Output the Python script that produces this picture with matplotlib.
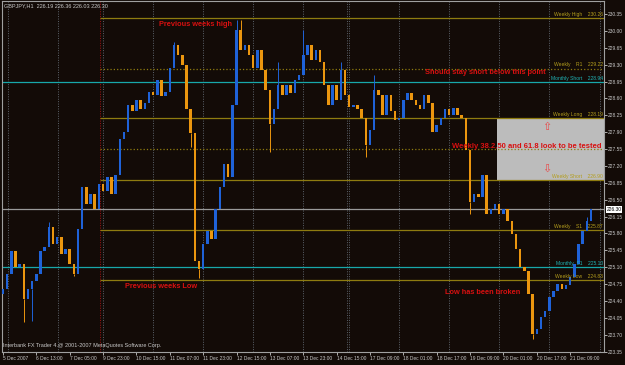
import matplotlib.pyplot as plt
import numpy as np

plt.rcParams['font.family'] = ['Liberation Sans', 'DejaVu Sans']

# GBPJPY H1, drawn as 2-hour candles (open = previous close)
first_open = 224.55
closes = [
    224.65, 224.96, 225.43, 225.10, 225.17, 224.44, 224.65, 224.81, 224.96, 225.43,
    225.52, 225.93, 225.58, 225.72, 225.37, 225.47, 225.17, 224.96, 225.89, 226.76,
    226.40, 226.61, 226.30, 226.82, 226.67, 226.96, 226.61, 227.02, 227.75, 227.91,
    228.47, 228.33, 228.57, 228.37, 228.51, 228.74, 228.68, 228.99, 228.64, 228.74,
    229.24, 229.71, 229.50, 229.30, 228.37, 227.89, 225.23, 225.06, 225.58, 225.85,
    225.68, 226.30, 226.76, 227.23, 226.96, 228.47, 230.02, 229.61, 229.71, 229.50,
    229.24, 229.61, 229.19, 228.78, 228.06, 228.37, 228.88, 228.68, 228.88, 228.72,
    228.99, 229.09, 229.50, 229.71, 229.40, 229.61, 229.36, 228.88, 228.47, 228.88,
    228.57, 229.19, 228.68, 228.43, 228.47, 228.37, 228.20, 227.64, 227.95, 228.78,
    228.68, 228.26, 228.68, 228.33, 228.16, 228.20, 228.57, 228.72, 228.57, 228.47,
    228.37, 228.68, 228.51, 227.91, 228.04, 228.20, 228.37, 228.26, 228.41, 228.26,
    228.20, 227.54, 226.45, 226.61, 226.55, 227.02, 226.20, 226.30, 226.40, 226.20,
    226.30, 226.05, 225.78, 225.47, 225.10, 225.02, 224.55, 223.72, 223.82, 224.07,
    224.19, 224.48, 224.61, 224.75, 224.65, 224.73, 224.90, 225.17, 225.58, 225.85,
    226.05, 226.30,
]
# notable wicks (candle index: price)
spike_highs = {11: 226.03, 41: 229.77, 45: 228.06, 56: 230.23, 57: 230.23,
               66: 229.36, 72: 230.02, 81: 229.36, 89: 229.09, 140: 226.15}
spike_lows = {5: 223.97, 7: 223.99, 17: 224.92, 45: 227.60, 47: 224.88,
              64: 227.48, 87: 227.38, 112: 226.20, 127: 223.62}

date_labels = ['5 Dec 2007', '6 Dec 13:00', '7 Dec 05:00', '9 Dec 23:00', '10 Dec 15:00',
               '11 Dec 07:00', '11 Dec 23:00', '12 Dec 15:00', '13 Dec 07:00',
               '13 Dec 23:00', '14 Dec 15:00', '17 Dec 09:00', '18 Dec 01:00',
               '18 Dec 17:00', '19 Dec 09:00', '20 Dec 01:00', '20 Dec 17:00',
               '21 Dec 09:00']
price_ticks = [230.35, 230.00, 229.65, 229.30, 228.95, 228.60, 228.25, 227.90, 227.55,
               227.20, 226.85, 226.50, 226.15, 225.80, 225.45, 225.10, 224.75, 224.40,
               224.05, 223.70, 223.35]
day_seps = [1.2, 13.2, 24.0, 36.0, 48.0, 60.0, 72.0, 82.4, 83.0, 95.0, 107.0, 119.0,
            131.0, 143.2]

# level lines: (name, price, colour, style, full width)
levels = [
    ('Weekly High', 230.26, 'olive', '-', False),
    ('Weekly    R1', 229.22, 'olive', ':', False),
    ('Monthly Short', 228.94, 'cyan', '-', True),
    ('Weekly Long', 228.19, 'olive', '-', False),
    ('', 227.55, 'olive', ':', False),
    ('Weekly Short', 226.90, 'olive', '-', False),
    ('Weekly    S1', 225.87, 'olive', '-', False),
    ('Monthly  S1', 225.10, 'cyan', '-', True),
    ('Weekly Low', 224.83, 'olive', '-', False),
]
last_price = 226.30

BG = '#130b07'
BLUE = '#1f62d8'
ORANGE = '#eb960f'
LINE_COL = {'olive': '#8f7c10', 'cyan': '#18a8aa'}
TXT_COL = {'olive': '#b39d1c', 'cyan': '#1fb4b6'}
RED = '#d81010'


def px(x, y):
    """pixel position -> figure fraction"""
    return x / 625, 1 - y / 365


def main():
    fig = plt.figure(figsize=(6.25, 3.65), dpi=100, facecolor=BG)
    ax = fig.add_axes([2 / 625, 13 / 365, 602 / 625, 351 / 365], facecolor=BG)
    xmin, xmax = -0.24, 144.12
    ax.set_xlim(xmin, xmax)
    ax.set_ylim(223.34, 230.62)

    # day separators
    for d in day_seps:
        ax.axvline(d, color='#5d646c', lw=0.7, ls=(0, (1, 1.5)), zorder=1)
    ax.axvline(23.3, color='#a01010', lw=0.7, ls=(0, (1, 1.5)), zorder=1)

    # target zone box
    ax.fill_between([118.5, xmax], 226.90, 228.19, color='#bcbcbc', lw=0, zorder=1.5)

    # candles
    closes_arr = np.array(closes)
    opens = np.concatenate([[first_open], closes_arr[:-1]])
    idx = np.arange(len(closes_arr))
    cols = [BLUE if c >= o else ORANGE for o, c in zip(opens, closes_arr)]
    ax.bar(idx, closes_arr - opens, bottom=opens, width=0.6, color=cols, lw=0, zorder=3)
    for i, h in spike_highs.items():
        ax.vlines(i, max(opens[i], closes_arr[i]), h, color=cols[i], lw=0.7, zorder=3)
    for i, l in spike_lows.items():
        ax.vlines(i, l, min(opens[i], closes_arr[i]), color=cols[i], lw=0.7, zorder=3)

    # level lines and their labels
    for name, price, kind, ls, full in levels:
        start = xmin if full else 23.3
        ax.hlines(price, start, xmax, color=LINE_COL[kind], lw=0.9, ls=ls, zorder=2)
        if name:
            ax.text(143.9, price + 0.03, f'{name}    {price:.2f}', color=TXT_COL[kind],
                    fontsize=3.6, ha='right', va='bottom', zorder=4)
    ax.axhline(last_price, color='#9a9a9a', lw=0.9, zorder=2)

    # axes styling
    for s in ax.spines.values():
        s.set_color('#a0a0a0')
        s.set_linewidth(0.8)
    ax.yaxis.tick_right()
    ax.set_yticks(price_ticks)
    ax.set_yticklabels([f'{p:.2f}' for p in price_ticks])
    ax.set_xticks([8 * k for k in range(len(date_labels))])
    ax.set_xticklabels(date_labels, ha='left')
    ax.tick_params(colors='#c8c8c8', labelsize=3.5, length=2, width=0.6, pad=1)
    ax.text(1.004, last_price, f'{last_price:.2f}', transform=ax.get_yaxis_transform(),
            fontsize=3.5, color='black', va='center', ha='left',
            bbox=dict(boxstyle='square,pad=0.15', fc='white', ec='none'))

    # header / footer
    fig.text(*px(4, 6), 'GBPJPY,H1  226.19 226.36 226.03 226.30', color='#c8c8c8',
             fontsize=4.0, va='center')
    fig.text(*px(3, 345), 'Interbank FX Trader 4.@ 2001-2007 MetaQuotes Software Corp.',
             color='#c8c8c8', fontsize=4.0, va='center')

    # annotations
    red_kw = dict(color=RED, fontsize=5.3, fontweight='bold', va='center')
    fig.text(*px(159, 25), 'Previous weeks high', **red_kw)
    fig.text(*px(425, 73), 'Should stay short below this point', **red_kw)
    fig.text(*px(452, 147), 'Weekly 38.2,50 and 61.8 look to be tested', zorder=5,
             **dict(red_kw, fontsize=5.5))
    fig.text(*px(125, 287), 'Previous weeks Low', **red_kw)
    fig.text(*px(445, 293), 'Low has been broken', **red_kw)
    fig.text(*px(547, 127), '\u21e7', color='#e84848', fontsize=8, ha='center', va='center',
             family='DejaVu Sans')
    fig.text(*px(547, 169), '\u21e9', color='#e84848', fontsize=8, ha='center', va='center',
             family='DejaVu Sans')

    fig.savefig('out.png', dpi=100, facecolor=BG)


if __name__ == '__main__':
    main()
